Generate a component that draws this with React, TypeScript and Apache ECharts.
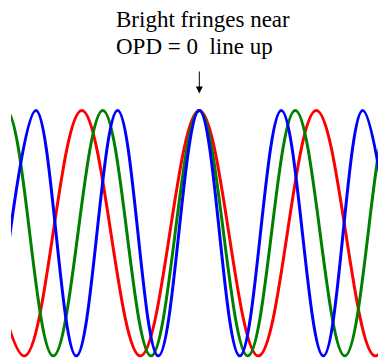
import React, { useEffect, useRef } from "react";
import * as echarts from "echarts";

// Optical path difference axis (centre = OPD 0), arbitrary units
const opdMin = -186.3;
const opdMax = 178.7;

// Positions of the maxima/minima, per wavelength
const redX = [-234, -175, -117.5, -59, 0, 59, 117, 176, 234];
const redY = [1, -1, 1, -1, 1, -1, 1, -1, 1];

const greenX = [-241, -193, -146, -96.5, -48.3, 0, 48.5, 96, 145.5, 192, 240];
const greenY = [-1, 1, -1, 1, -1, 1, -1, 1, -1, 1, -1];

const blueX = [-204, -163.4, -123, -81.7, -41, 0, 40.5, 82, 124, 163.4, 204];
const blueY = [-1, 1, -1, 1, -1, 1, -1, 1, -1, 1, -1];

const labelLines = ["Bright fringes near", "OPD = 0  line up"];

const zip = (xs: number[], ys: number[]) => xs.map((x, i) => [x, ys[i]]);

export default function App() {
  const ref = useRef<HTMLDivElement>(null);
  useEffect(() => {
    if (!ref.current) return;
    const chart = echarts.init(ref.current, null, { renderer: "svg" });
    const mk = (name: string, color: string, xs: number[], ys: number[]) => ({
      name,
      type: "line",
      data: zip(xs, ys),
      smooth: 0.364,
      showSymbol: false,
      symbol: "none",
      clip: true,
      lineStyle: { color, width: 3 },
    });
    const textStyle = (t: string) => ({
      text: t,
      fontFamily: "Liberation Serif",
      fontSize: 23,
      fill: "#000",
    });
    chart.setOption({
      animation: false,
      backgroundColor: "#ffffff",
      grid: { left: 13, right: 0, top: 110.5, bottom: 2, containLabel: false },
      xAxis: {
        type: "value",
        min: opdMin,
        max: opdMax,
        show: false,
        splitLine: { show: false },
      },
      yAxis: {
        type: "value",
        min: -1,
        max: 1,
        show: false,
        splitLine: { show: false },
      },
      series: [
        mk("red", "#ff0000", redX, redY),
        mk("green", "#008000", greenX, greenY),
        mk("blue", "#0000ff", blueX, blueY),
      ],
      graphic: [
        { type: "text", left: 116, top: 8, style: textStyle(labelLines[0]) },
        { type: "text", left: 116, top: 35, style: textStyle(labelLines[1]) },
        {
          type: "line",
          shape: { x1: 199.3, y1: 71.5, x2: 199.3, y2: 88 },
          style: { stroke: "#000", lineWidth: 1 },
        },
        {
          type: "polygon",
          shape: { points: [[195.8, 86.5], [202.8, 86.5], [199.3, 93.5]] },
          style: { fill: "#000" },
        },
      ],
    });
    return () => chart.dispose();
  }, []);
  return (
    <div
      ref={ref}
      style={{ position: "fixed", left: 0, top: 0, width: 378, height: 358 }}
    />
  );
}
